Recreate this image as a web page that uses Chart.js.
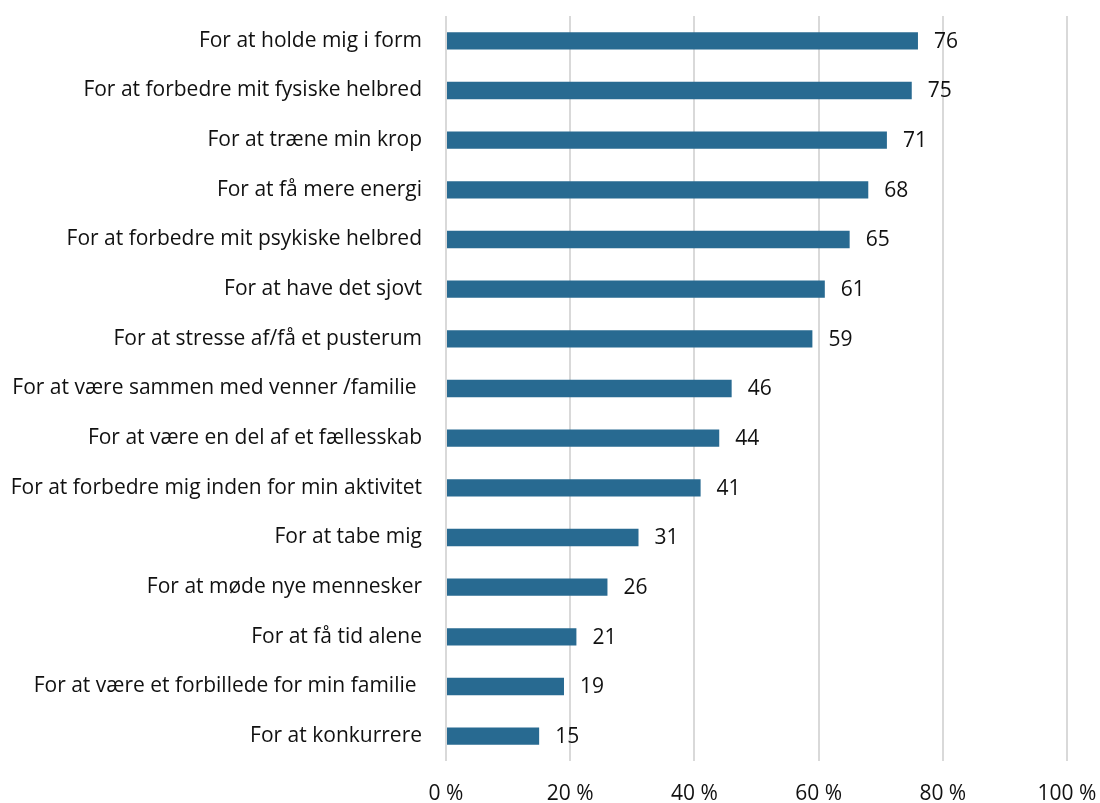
<!DOCTYPE html>
<html>
<head>
<meta charset="utf-8">
<script src="https://cdn.jsdelivr.net/npm/chart.js@4"></script>
<style>
  html, body { margin: 0; padding: 0; background: #fff; }
  #wrap { width: 1100px; height: 803px; }
</style>
</head>
<body>
<div id="wrap"><canvas id="motivChart" width="1100" height="803"></canvas></div>
<script>
// Reasons given for being active, share of respondents (%)
var categories = [
  "For at holde mig i form",
  "For at forbedre mit fysiske helbred",
  "For at træne min krop",
  "For at få mere energi",
  "For at forbedre mit psykiske helbred",
  "For at have det sjovt",
  "For at stresse af/få et pusterum",
  "For at være sammen med venner /familie ",
  "For at være en del af et fællesskab",
  "For at forbedre mig inden for min aktivitet",
  "For at tabe mig",
  "For at møde nye mennesker",
  "For at få tid alene",
  "For at være et forbillede for min familie ",
  "For at konkurrere"
];
var shares = [76, 75, 71, 68, 65, 61, 59, 46, 44, 41, 31, 26, 21, 19, 15];
var xTicks = [0, 20, 40, 60, 80, 100];

var fontFamily = "'Open Sans', sans-serif";
var fontSize = 21;
var textColor = "#111111";

// writes the number just past the end of each bar
var valueLabels = {
  id: "valueLabels",
  afterDatasetsDraw: function (chart) {
    var ctx = chart.ctx;
    var meta = chart.getDatasetMeta(0);
    ctx.save();
    ctx.font = fontSize + "px " + fontFamily;
    ctx.fillStyle = textColor;
    ctx.textAlign = "left";
    ctx.textBaseline = "middle";
    meta.data.forEach(function (bar, i) {
      ctx.fillText(String(shares[i]), bar.x + 16, bar.y + 1);
    });
    ctx.restore();
  }
};

// keep tick labels from pushing the plot area inwards
function dropLabelPadding(scale) {
  scale.paddingTop = 0;
  scale.paddingBottom = 0;
  scale.paddingLeft = 0;
  scale.paddingRight = 0;
}

new Chart(document.getElementById("motivChart"), {
  type: "bar",
  data: {
    labels: categories,
    datasets: [
      {
        data: shares,
        backgroundColor: "#286a91",
        borderWidth: 0,
        barPercentage: 0.35,
        categoryPercentage: 1
      }
    ]
  },
  options: {
    indexAxis: "y",
    responsive: false,
    animation: false,
    layout: { autoPadding: false, padding: { top: 16, right: 33, left: 0, bottom: 0 } },
    scales: {
      x: {
        min: 0,
        max: 100,
        afterBuildTicks: function (scale) {
          scale.ticks = xTicks.map(function (v) { return { value: v }; });
        },
        afterFit: function (scale) {
          scale.height = 42;
          dropLabelPadding(scale);
        },
        border: { display: false },
        grid: { color: "#d9d9d9", lineWidth: 2, drawTicks: false },
        ticks: {
          padding: 20,
          color: textColor,
          font: { family: fontFamily, size: fontSize },
          maxRotation: 0,
          callback: function (value) { return value + " %"; }
        }
      },
      y: {
        afterFit: function (scale) {
          scale.width = 446;
          dropLabelPadding(scale);
        },
        border: { display: false },
        grid: { display: false, drawTicks: false },
        ticks: {
          padding: 24,
          color: textColor,
          font: { family: fontFamily, size: fontSize },
          autoSkip: false
        }
      }
    },
    plugins: {
      legend: { display: false },
      tooltip: { enabled: false }
    }
  },
  plugins: [valueLabels]
});
</script>
</body>
</html>
